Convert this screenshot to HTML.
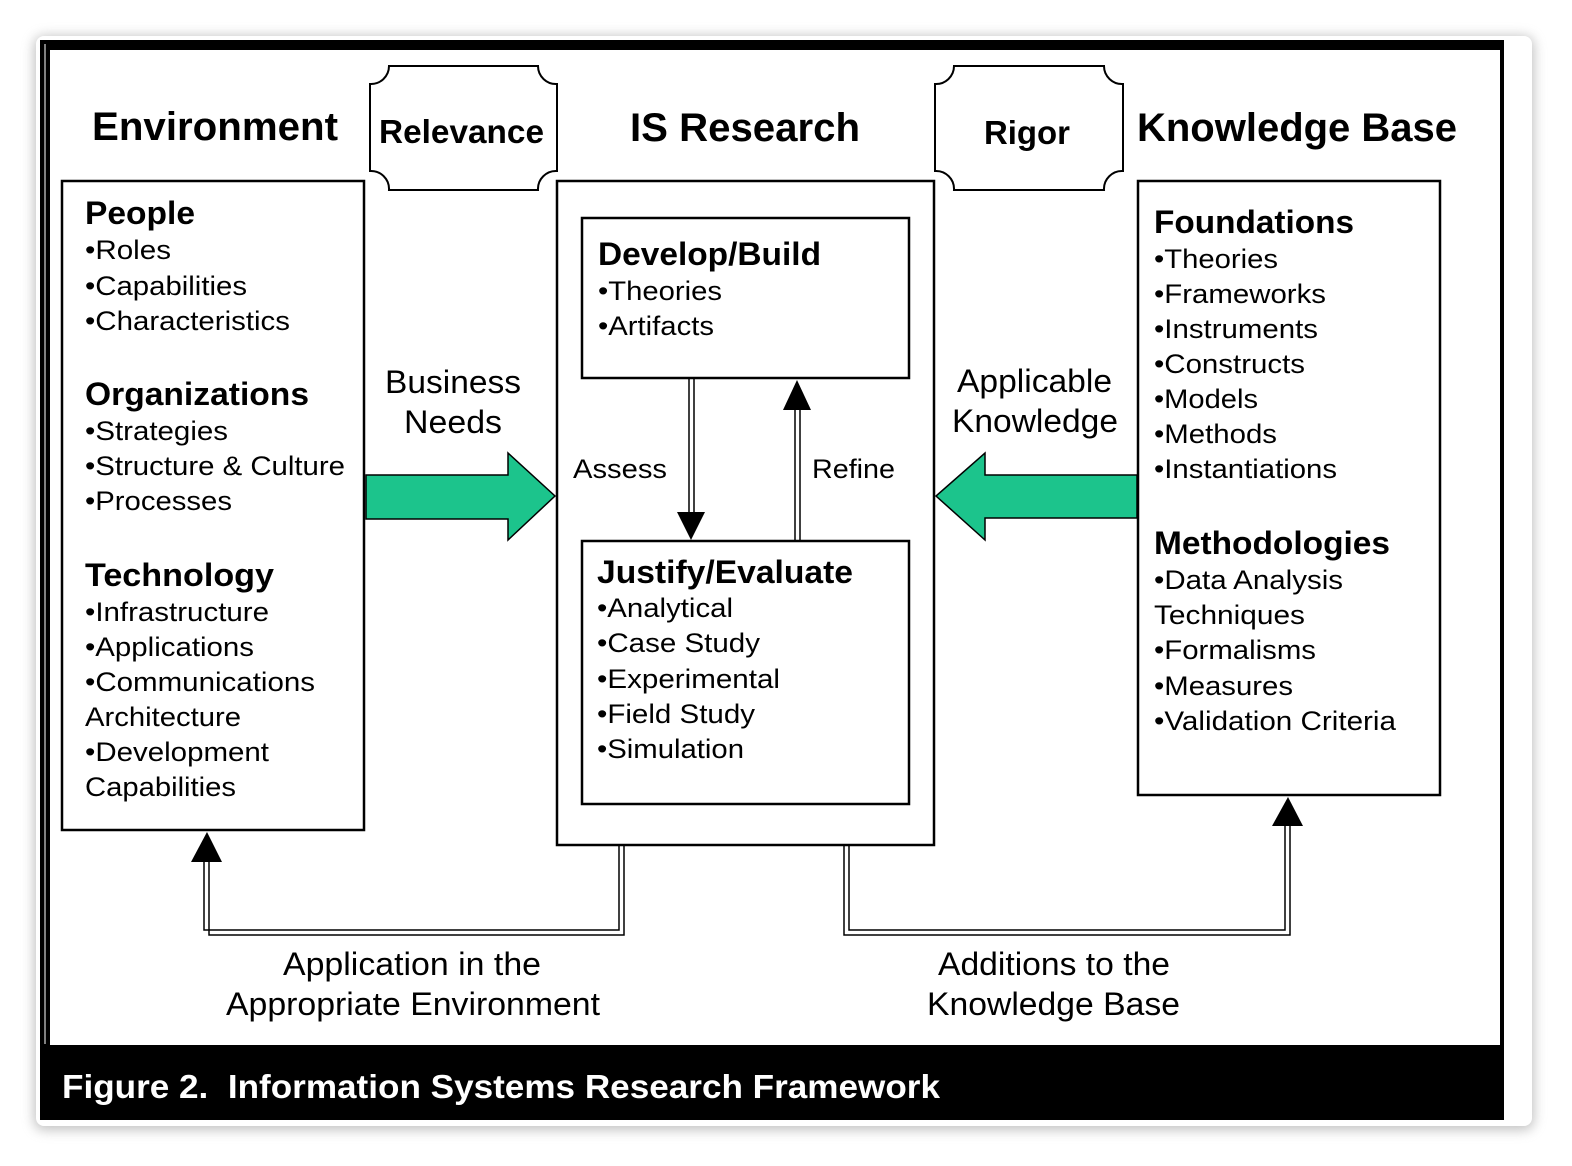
<!DOCTYPE html>
<html><head><meta charset="utf-8"><style>
html,body{margin:0;padding:0;background:#fff;}
svg{display:block;}
text{font-family:"Liberation Sans",Arial,sans-serif;fill:#000;}
.b{font-weight:bold;}
</style></head><body>
<svg width="1572" height="1166" viewBox="0 0 1572 1166" xmlns="http://www.w3.org/2000/svg">
<defs>
<filter id="sh" x="-5%" y="-5%" width="110%" height="110%"><feGaussianBlur stdDeviation="6"/></filter>
</defs>
<rect x="0" y="0" width="1572" height="1166" fill="#fff"/>
<rect x="34" y="36" width="1500" height="1094" rx="10" fill="#999" filter="url(#sh)" opacity="0.6"/>
<rect x="36" y="36" width="1496" height="1090" rx="8" fill="#fff"/>
<rect x="40" y="40" width="1464" height="1080" fill="#000"/>
<rect x="50" y="50" width="1450" height="995" fill="#fff"/>
<rect x="44" y="44" width="2" height="1000" fill="#fff" opacity="0.5"/>

<g lengthAdjust="spacingAndGlyphs">
<text class="b" x="92" y="140" font-size="40" textLength="246" lengthAdjust="spacingAndGlyphs">Environment</text>
<text class="b" x="630" y="141" font-size="40" textLength="230" lengthAdjust="spacingAndGlyphs">IS Research</text>
<text class="b" x="1137" y="141" font-size="40" textLength="320" lengthAdjust="spacingAndGlyphs">Knowledge Base</text>
</g>

<g fill="#fff" stroke="#000" stroke-width="2">
<path d="M389,66 H538 A18,18 0 0 0 557,84 V171 A18,18 0 0 0 538,190 H389 A18,18 0 0 0 370,171 V84 A18,18 0 0 0 389,66 Z"/>
<path d="M954,66 H1104 A18,18 0 0 0 1123,84 V171 A18,18 0 0 0 1104,190 H954 A18,18 0 0 0 935,171 V84 A18,18 0 0 0 954,66 Z"/>
</g>
<text class="b" x="379" y="143" font-size="33" textLength="165" lengthAdjust="spacingAndGlyphs">Relevance</text>
<text class="b" x="984" y="144" font-size="33" textLength="86" lengthAdjust="spacingAndGlyphs">Rigor</text>

<g fill="none" stroke="#000" stroke-width="2.5">
<rect x="62" y="181" width="302" height="649"/>
<rect x="557" y="181" width="377" height="664"/>
<rect x="582" y="218" width="327" height="160"/>
<rect x="582" y="541" width="327" height="263"/>
<rect x="1138" y="181" width="302" height="614"/>
</g>

<g font-size="27">
<text class="b" x="85" y="224" font-size="32" textLength="110" lengthAdjust="spacingAndGlyphs">People</text>
<text x="85" y="259" textLength="86" lengthAdjust="spacingAndGlyphs">•Roles</text>
<text x="85" y="295" textLength="162" lengthAdjust="spacingAndGlyphs">•Capabilities</text>
<text x="85" y="330" textLength="205" lengthAdjust="spacingAndGlyphs">•Characteristics</text>
<text class="b" x="85" y="405" font-size="32" textLength="224" lengthAdjust="spacingAndGlyphs">Organizations</text>
<text x="85" y="440" textLength="143" lengthAdjust="spacingAndGlyphs">•Strategies</text>
<text x="85" y="475" textLength="260" lengthAdjust="spacingAndGlyphs">•Structure &amp; Culture</text>
<text x="85" y="510" textLength="147" lengthAdjust="spacingAndGlyphs">•Processes</text>
<text class="b" x="85" y="586" font-size="32" textLength="189" lengthAdjust="spacingAndGlyphs">Technology</text>
<text x="85" y="621" textLength="184" lengthAdjust="spacingAndGlyphs">•Infrastructure</text>
<text x="85" y="656" textLength="169" lengthAdjust="spacingAndGlyphs">•Applications</text>
<text x="85" y="691" textLength="230" lengthAdjust="spacingAndGlyphs">•Communications</text>
<text x="85" y="726" textLength="156" lengthAdjust="spacingAndGlyphs">Architecture</text>
<text x="85" y="761" textLength="184" lengthAdjust="spacingAndGlyphs">•Development</text>
<text x="85" y="796" textLength="151" lengthAdjust="spacingAndGlyphs">Capabilities</text>
</g>

<g font-size="27">
<text class="b" x="598" y="265" font-size="32" textLength="223" lengthAdjust="spacingAndGlyphs">Develop/Build</text>
<text x="598" y="300" textLength="124" lengthAdjust="spacingAndGlyphs">•Theories</text>
<text x="598" y="335" textLength="116" lengthAdjust="spacingAndGlyphs">•Artifacts</text>
<text class="b" x="597" y="583" font-size="32" textLength="256" lengthAdjust="spacingAndGlyphs">Justify/Evaluate</text>
<text x="597" y="617" textLength="136" lengthAdjust="spacingAndGlyphs">•Analytical</text>
<text x="597" y="652" textLength="163" lengthAdjust="spacingAndGlyphs">•Case Study</text>
<text x="597" y="688" textLength="183" lengthAdjust="spacingAndGlyphs">•Experimental</text>
<text x="597" y="723" textLength="158" lengthAdjust="spacingAndGlyphs">•Field Study</text>
<text x="597" y="758" textLength="147" lengthAdjust="spacingAndGlyphs">•Simulation</text>
<text x="573" y="478" textLength="94" lengthAdjust="spacingAndGlyphs">Assess</text>
<text x="812" y="478" textLength="83" lengthAdjust="spacingAndGlyphs">Refine</text>
</g>

<g font-size="27">
<text class="b" x="1154" y="233" font-size="32" textLength="200" lengthAdjust="spacingAndGlyphs">Foundations</text>
<text x="1154" y="268" textLength="124" lengthAdjust="spacingAndGlyphs">•Theories</text>
<text x="1154" y="303" textLength="172" lengthAdjust="spacingAndGlyphs">•Frameworks</text>
<text x="1154" y="338" textLength="164" lengthAdjust="spacingAndGlyphs">•Instruments</text>
<text x="1154" y="373" textLength="151" lengthAdjust="spacingAndGlyphs">•Constructs</text>
<text x="1154" y="408" textLength="104" lengthAdjust="spacingAndGlyphs">•Models</text>
<text x="1154" y="443" textLength="123" lengthAdjust="spacingAndGlyphs">•Methods</text>
<text x="1154" y="478" textLength="183" lengthAdjust="spacingAndGlyphs">•Instantiations</text>
<text class="b" x="1154" y="554" font-size="32" textLength="236" lengthAdjust="spacingAndGlyphs">Methodologies</text>
<text x="1154" y="589" textLength="189" lengthAdjust="spacingAndGlyphs">•Data Analysis</text>
<text x="1154" y="624" textLength="151" lengthAdjust="spacingAndGlyphs">Techniques</text>
<text x="1154" y="659" textLength="162" lengthAdjust="spacingAndGlyphs">•Formalisms</text>
<text x="1154" y="695" textLength="139" lengthAdjust="spacingAndGlyphs">•Measures</text>
<text x="1154" y="730" textLength="242" lengthAdjust="spacingAndGlyphs">•Validation Criteria</text>
</g>

<g font-size="32">
<text x="385" y="393" textLength="136" lengthAdjust="spacingAndGlyphs">Business</text>
<text x="404" y="433" textLength="98" lengthAdjust="spacingAndGlyphs">Needs</text>
<text x="957" y="392" textLength="155" lengthAdjust="spacingAndGlyphs">Applicable</text>
<text x="952" y="432" textLength="166" lengthAdjust="spacingAndGlyphs">Knowledge</text>
<text x="283" y="975" textLength="258" lengthAdjust="spacingAndGlyphs">Application in the</text>
<text x="226" y="1015" textLength="374" lengthAdjust="spacingAndGlyphs">Appropriate Environment</text>
<text x="938" y="975" textLength="232" lengthAdjust="spacingAndGlyphs">Additions to the</text>
<text x="927" y="1015" textLength="253" lengthAdjust="spacingAndGlyphs">Knowledge Base</text>
</g>

<g fill="#1CC48C" stroke="#000" stroke-width="1.5">
<path d="M366,475 H508 V453 L555,496 L508,540 V519 H366 Z"/>
<path d="M1137,475 H985 V453 L936,496 L985,540 V518 H1137 Z"/>
</g>

<g stroke="#000" stroke-width="1.5" fill="none">
<path d="M689,378 V512 M694,378 V512"/>
<path d="M795,410 V541 M800,410 V541"/>
</g>
<path d="M677,512 H705 L691,540 Z" fill="#000"/>
<path d="M783,410 H811 L797,380 Z" fill="#000"/>

<g stroke="#000" stroke-width="1.5" fill="none">
<path d="M619,845 V930 H204 V862"/>
<path d="M624,845 V935 H209 V862"/>
<path d="M844,845 V935 H1290 V826"/>
<path d="M849,845 V930 H1285 V826"/>
</g>
<path d="M191,862 H222 L207,832 Z" fill="#000"/>
<path d="M1272,826 H1303 L1288,797 Z" fill="#000"/>

<text class="b" x="62" y="1098" font-size="33" textLength="878" lengthAdjust="spacingAndGlyphs" style="fill:#fff">Figure 2.&#160; Information Systems Research Framework</text>
</svg>
</body></html>
